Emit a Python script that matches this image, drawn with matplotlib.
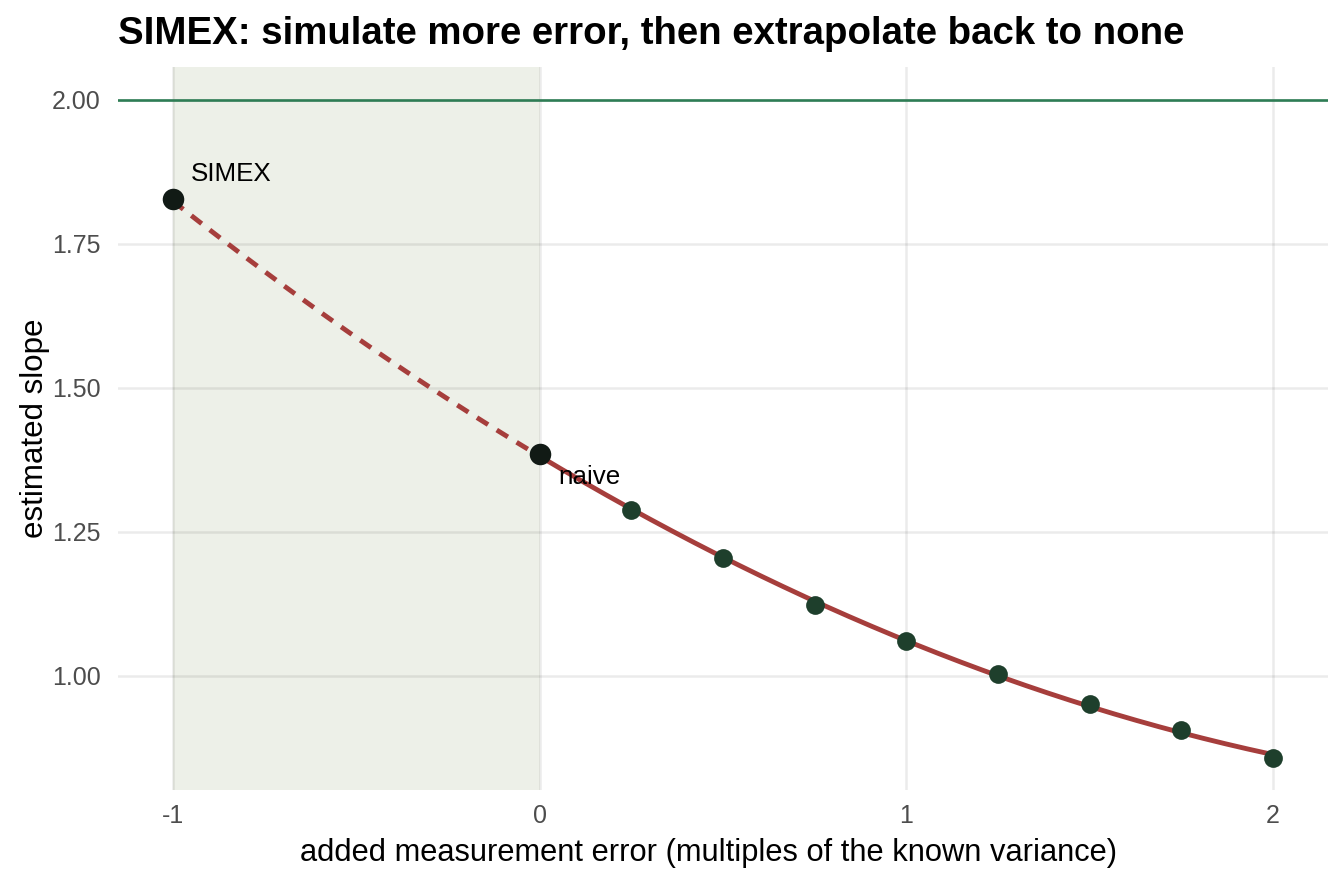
import numpy as np
import matplotlib
matplotlib.use("Agg")
import matplotlib.pyplot as plt

# ---- data ----
lam = [0.0, 0.25, 0.5, 0.75, 1.0, 1.25, 1.5, 1.75, 2.0]
slope = [1.385, 1.288, 1.204, 1.123, 1.061, 1.003, 0.950, 0.906, 0.857]
simex_lam = -1.0
simex_slope = 1.828
naive_lam = 0.0
naive_slope = 1.385
true_slope = 2.0
x_ticks = [-1, 0, 1, 2]
x_ticklabels = ["-1", "0", "1", "2"]
y_ticks = [1.00, 1.25, 1.50, 1.75, 2.00]
y_ticklabels = ["1.00", "1.25", "1.50", "1.75", "2.00"]

plt.rcParams['font.family'] = ['Liberation Sans', 'DejaVu Sans']

W, H = 1344, 883
fig = plt.figure(figsize=(W / 100, H / 100), dpi=100)
ax = fig.add_axes([118 / W, 1 - 790 / H, (1328 - 118) / W, (790 - 67) / H])

# quadratic extrapolant fitted to the simulated points
coef = np.polyfit(lam, slope, 2)
xs_solid = np.linspace(0, 2, 200)
xs_dash = np.linspace(-1, 0, 100)

# grid
for yt in y_ticks:
    ax.axhline(yt, color='black', alpha=0.08, lw=1.8, zorder=0)
for xt in x_ticks:
    ax.axvline(xt, color='black', alpha=0.08, lw=1.8, zorder=0)

# shaded extrapolation region (drawn under the grid)
ax.axvspan(-1, 0, color='#EDF0E8', zorder=-1, lw=0)

ax.axhline(true_slope, color='#2E7D55', lw=1.9, zorder=2)

ax.plot(xs_solid, np.polyval(coef, xs_solid), color='#A63E3C', lw=3.5, zorder=3,
        solid_capstyle='butt')
ax.plot(xs_dash, np.polyval(coef, xs_dash), color='#A63E3C', lw=3.5, zorder=3,
        linestyle=(0, (2.7, 2.1)), dash_capstyle='butt')

ax.plot(lam, slope, 'o', color='#1E3F2C', ms=13.5, mew=0, zorder=4)
ax.plot([simex_lam, naive_lam], [simex_slope, naive_slope], 'o', color='#111A15',
        ms=15.5, mew=0, zorder=5)

ax.text(simex_lam + 0.05, simex_slope + 0.044, "SIMEX", fontsize=18.7,
        ha='left', va='center', color='black', zorder=6)
ax.text(naive_lam + 0.05, naive_slope - 0.04, "naive", fontsize=18.7,
        ha='left', va='center', color='black', zorder=6)

ax.set_xlim(-1.15, 2.15)
ax.set_ylim(0.8015, 2.0571)
ax.set_xticks(x_ticks)
ax.set_xticklabels(x_ticklabels)
ax.set_yticks(y_ticks)
ax.set_yticklabels(y_ticklabels)
ax.tick_params(axis='y', length=0, labelsize=18, labelcolor='#4D4D4D', pad=12.5)
ax.tick_params(axis='x', length=0, labelsize=18, labelcolor='#4D4D4D', pad=10)
for s in ax.spines.values():
    s.set_visible(False)
ax.set_facecolor('white')

fig.text(118 / W, 1 - 44 / H, "SIMEX: simulate more error, then extrapolate back to none",
         fontsize=27.6, fontweight='bold', ha='left', va='baseline')
fig.text(708 / W, 1 - 853 / H, "added measurement error (multiples of the known variance)",
         fontsize=22.2, ha='center', va='center')
fig.text(35 / W, 1 - 428 / H, "estimated slope", fontsize=22.5, rotation=90,
         ha='center', va='center')

fig.savefig("out.png", dpi=100, facecolor='white')
